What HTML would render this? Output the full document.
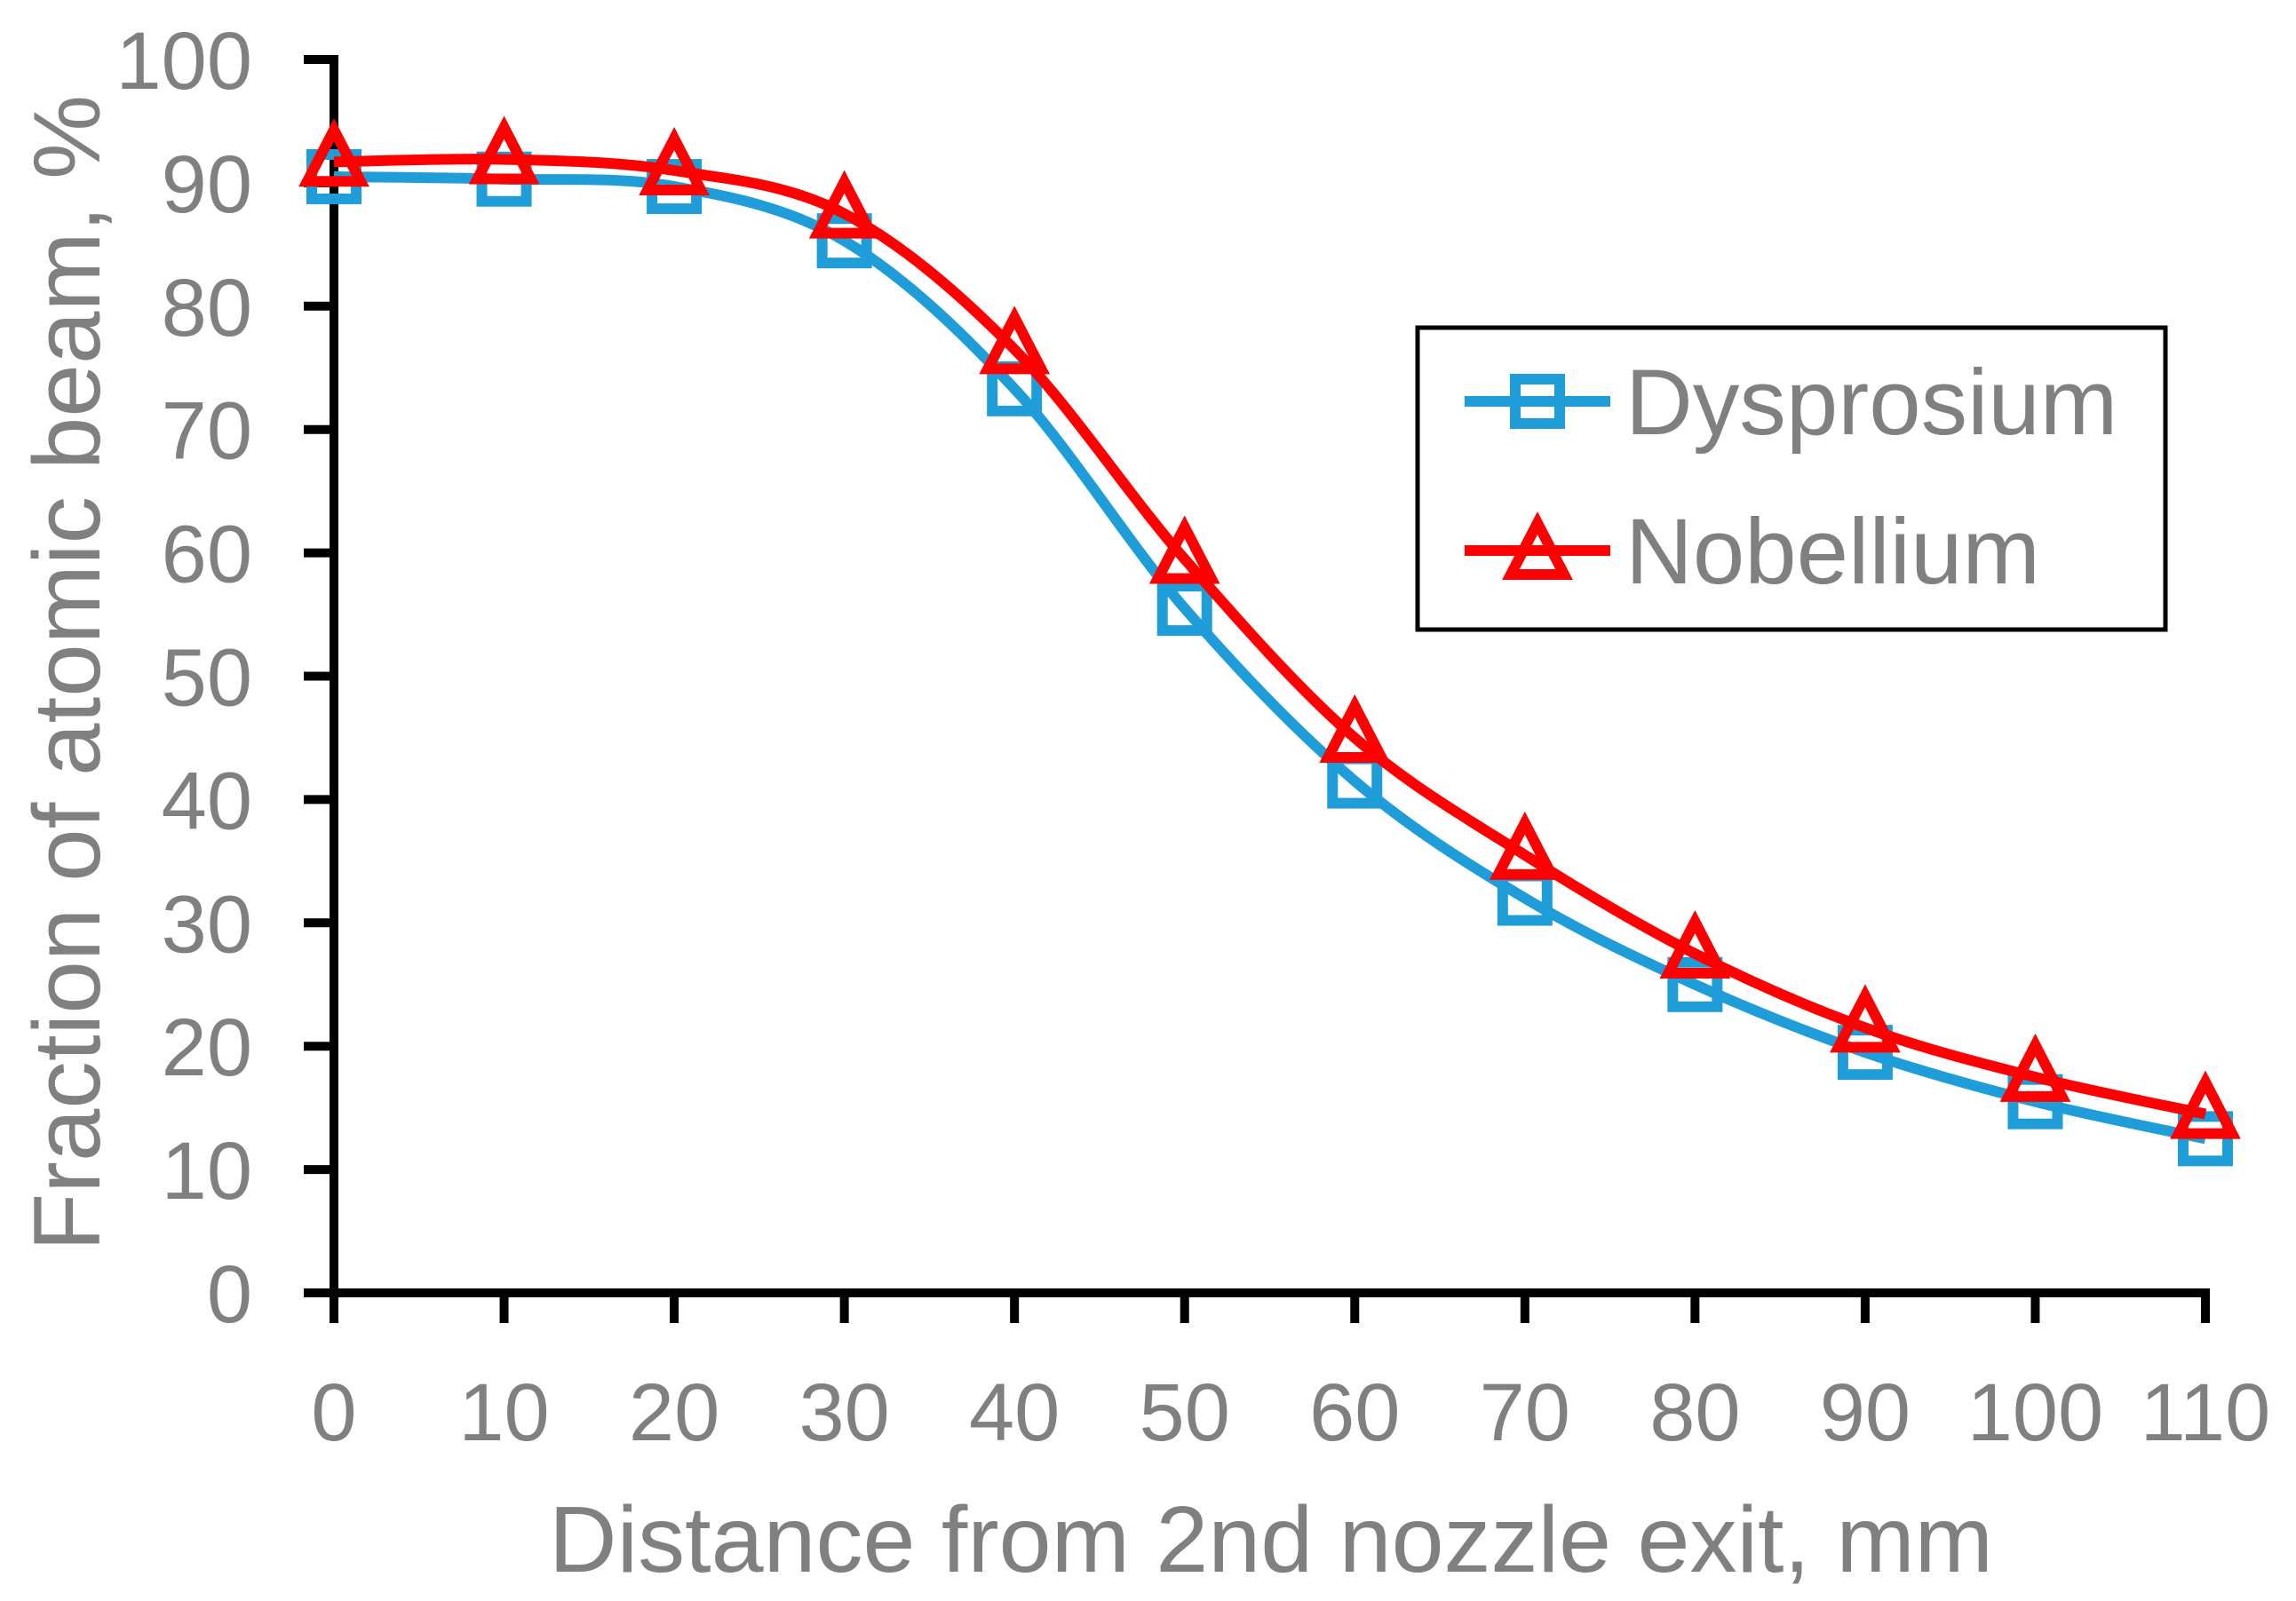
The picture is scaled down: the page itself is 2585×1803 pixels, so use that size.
<!DOCTYPE html>
<html><head><meta charset="utf-8"><style>
html,body{margin:0;padding:0;background:#fff}
svg{display:block}
text{font-family:"Liberation Sans",sans-serif;fill:#808080}
</style></head><body>
<svg width="2585" height="1803" viewBox="0 0 2585 1803" id="c">
</svg>
<script>
const xCats=[0,10,20,30,40,50,60,70,80,90,100,110];
const yTicks=[0,10,20,30,40,50,60,70,80,90,100];
const dyVals=[90.5,90.3,89.7,85.3,73.3,55.5,41.5,32,25,19.5,15.5,12.5];
const noVals=[91.7,91.9,91,87.5,76.5,59.5,45,35.5,27.5,21.5,17.5,14.5];
const NS='http://www.w3.org/2000/svg';
const svg=document.getElementById('c');
const X0=376,X1=2483,Y0=1456,Y1=67;
const sx=v=>X0+(v-0)/(110-0)*(X1-X0);
const sy=v=>Y0-(v-0)/(100-0)*(Y0-Y1);
function mk(t,a,p){const e=document.createElementNS(NS,t);for(const k in a)e.setAttribute(k,a[k]);(p||svg).appendChild(e);return e;}
let ax=mk('line',{x1:X0,y1:Y1-5,x2:X0,y2:Y0,stroke:'#000','stroke-width':10});


ax=mk('line',{x1:X0-5,y1:Y0,x2:X1+5,y2:Y0,stroke:'#000','stroke-width':10});


yTicks.forEach(v=>{
 const y=sy(v);
 const t=mk('line',{x1:X0-34,y1:y,x2:X0,y2:y,stroke:'#000','stroke-width':10});
 
 
 const l=mk('text',{x:284,y:y+33,'text-anchor':'end','font-size':92});
 l.textContent=v;
 
 
});
xCats.forEach(v=>{
 const x=sx(v);
 const t=mk('line',{x1:x,y1:Y0,x2:x,y2:Y0+34,stroke:'#000','stroke-width':10});
 
 
 const l=mk('text',{x:x,y:1622,'text-anchor':'middle','font-size':92});
 l.textContent=v;
 
 
});
function spline(vals){
 const p=vals.map((v,i)=>[sx(xCats[i]),sy(v)]);
 let d='M'+p[0][0]+','+p[0][1];
 for(let i=0;i<p.length-1;i++){
  const a=p[Math.max(i-1,0)],b=p[i],c=p[i+1],e=p[Math.min(i+2,p.length-1)];
  const c1=[b[0]+(c[0]-a[0])/6,b[1]+(c[1]-a[1])/6],c2=[c[0]-(e[0]-b[0])/6,c[1]-(e[1]-b[1])/6];
  d+=` C${c1[0]},${c1[1]} ${c2[0]},${c2[1]} ${c[0]},${c[1]}`;
 }
 return d;
}
function sq(x,y,col,p){return mk('rect',{x:x-25,y:y-25,width:50,height:50,fill:'none',stroke:col,'stroke-width':12},p);}
function tri(x,y,col,p){return mk('polygon',{points:`${x},${y-36} ${x-30},${y+22} ${x+30},${y+22}`,fill:'none',stroke:col,'stroke-width':12,'stroke-linejoin':'miter'},p);}
const BL='#1f9dd9',RD='#ff0000';
let g=mk('g',{});


mk('path',{d:spline(dyVals),fill:'none',stroke:BL,'stroke-width':12},g);
dyVals.forEach((v,i)=>{const m=sq(sx(xCats[i]),sy(v),BL,g);
 
 });
g=mk('g',{});


mk('path',{d:spline(noVals),fill:'none',stroke:RD,'stroke-width':12},g);
noVals.forEach((v,i)=>{const m=tri(sx(xCats[i]),sy(v),RD,g);
 
 });
g=mk('g',{});


mk('rect',{x:1596,y:369,width:842,height:340,fill:'#fff',stroke:'#000','stroke-width':5},g);
mk('line',{x1:1649,y1:452,x2:1813,y2:452,stroke:BL,'stroke-width':12},g);
sq(1731,452,BL,g);
let t=mk('text',{x:1830,y:489,'font-size':105},g);t.textContent='Dysprosium';


mk('line',{x1:1649,y1:620,x2:1813,y2:620,stroke:RD,'stroke-width':12},g);
tri(1731,625,RD,g);
t=mk('text',{x:1830,y:657,'font-size':105},g);t.textContent='Nobellium';


t=mk('text',{x:1431,y:1770,'text-anchor':'middle','font-size':106});t.textContent='Distance from 2nd nozzle exit, mm';


t=mk('text',{x:0,y:0,'text-anchor':'middle','font-size':107,transform:'translate(112,758) rotate(-90)'});t.textContent='Fraction of atomic beam, %';


</script>
</body></html>
